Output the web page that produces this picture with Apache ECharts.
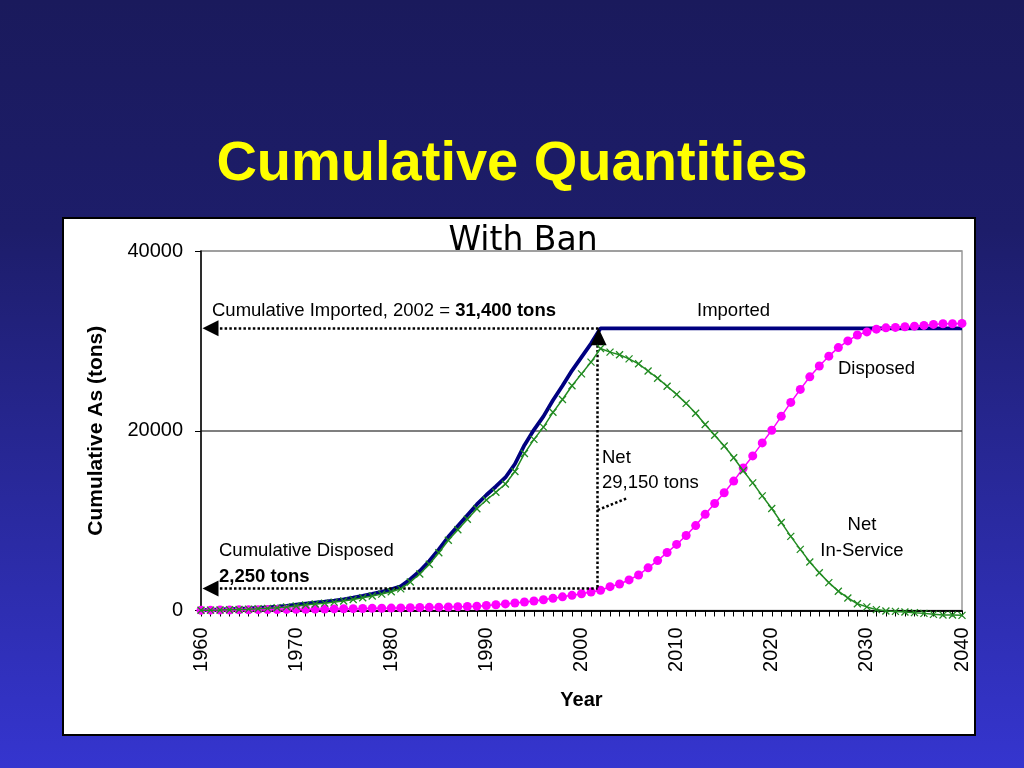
<!DOCTYPE html>
<html><head><meta charset="utf-8">
<script src="https://cdn.jsdelivr.net/npm/echarts@6/dist/echarts.min.js"></script>
<style>html,body{margin:0;padding:0;background:#1a1a5c}#main{width:1024px;height:768px}</style>
</head><body><div id="main"></div><script>
// ---- data ----
const years = [1960,1961,1962,1963,1964,1965,1966,1967,1968,1969,
  1970,1971,1972,1973,1974,1975,1976,1977,1978,1979,
  1980,1981,1982,1983,1984,1985,1986,1987,1988,1989,
  1990,1991,1992,1993,1994,1995,1996,1997,1998,1999,
  2000,2001,2002,2003,2004,2005,2006,2007,2008,2009,
  2010,2011,2012,2013,2014,2015,2016,2017,2018,2019,
  2020,2021,2022,2023,2024,2025,2026,2027,2028,2029,
  2030,2031,2032,2033,2034,2035,2036,2037,2038,2039,2040];
const imported = [50,80,110,150,190,230,280,340,420,520,
  640,760,870,980,1110,1250,1430,1630,1850,2080,
  2350,2700,3480,4400,5500,6800,8200,9400,10600,11800,
  12850,13800,14800,16300,18400,20100,21600,23400,25000,26700,
  28200,29700,31400,31400,31400,31400,31400,31400,31400,31400,
  31400,31400,31400,31400,31400,31400,31400,31400,31400,31400,
  31400,31400,31400,31400,31400,31400,31400,31400,31400,31400,
  31400,31400,31400,31400,31400,31400,31400,31400,31400,31400,31400];
const disposed = [30,40,50,60,70,80,90,100,110,120,
  130,140,150,160,175,190,205,220,240,255,
  270,290,310,330,350,370,390,415,440,480,
  560,640,730,830,940,1060,1200,1350,1520,1690,
  1870,2060,2250,2650,2950,3400,3950,4750,5550,6450,
  7350,8350,9450,10700,11900,13100,14400,15850,17200,18650,
  20050,21600,23150,24600,26000,27200,28300,29250,30000,30650,
  31000,31300,31450,31500,31570,31640,31720,31830,31900,31910,31940];
const netInService = [20,40,60,90,120,150,190,240,310,400,
  510,620,720,820,935,1060,1225,1410,1610,1825,
  2080,2410,3170,4070,5150,6430,7810,8985,10160,11320,
  12290,13160,14070,15470,17460,19040,20400,22050,23480,25010,
  26330,27640,29150,28750,28450,28000,27450,26650,25850,24950,
  24050,23050,21950,20700,19500,18300,17000,15550,14200,12750,
  11350,9800,8250,6800,5400,4200,3100,2150,1400,750,
  400,100,-50,-100,-170,-240,-320,-430,-500,-510,-540];
const yTicks = [0, 20000, 40000];
const xTicks = [1960,1970,1980,1990,2000,2010,2020,2030,2040];

const pairs = arr => years.map((y, i) => [y, arr[i]]);
const FONT = 'Liberation Sans, Arial, sans-serif';

const chart = echarts.init(document.getElementById('main'));
const dotted = { type: [2.5, 2.2], color: '#000', width: 2.5 };

const option = {
  animation: false,
  backgroundColor: {
    type: 'linear', x: 0, y: 0, x2: 0, y2: 1,
    colorStops: [{offset: 0, color: '#1a1a5c'}, {offset: 0.3, color: '#1d1d6a'}, {offset: 1, color: '#3535cf'}]
  },
  textStyle: { fontFamily: FONT },
  graphic: [
    { type: 'rect', z: -100, shape: { x: 63, y: 218, width: 912, height: 517 },
      style: { fill: '#fff', stroke: '#000', lineWidth: 2 } },
    { type: 'text', x: 512, y: 165, z: 100,
      style: { text: 'Cumulative Quantities', fill: '#ffff00', fontSize: 56, fontWeight: 'bold', fontFamily: FONT, align: 'center', verticalAlign: 'middle' } },
    { type: 'text', x: 523, y: 241, z: 100,
      style: { text: 'With Ban', fill: '#000', fontSize: 33, fontFamily: 'DejaVu Sans', align: 'center', verticalAlign: 'middle' } },
    { type: 'text', x: 212, y: 311, z: 100,
      style: { text: 'Cumulative Imported, 2002 = {b|31,400 tons}', fill: '#000', fontSize: 18.5, fontFamily: FONT, align: 'left', verticalAlign: 'middle',
        rich: { b: { fontWeight: 'bold', fontSize: 18.5, fontFamily: FONT, fill: '#000' } } } },
    { type: 'text', x: 697, y: 311, z: 100,
      style: { text: 'Imported', fill: '#000', fontSize: 18.5, fontFamily: FONT, align: 'left', verticalAlign: 'middle' } },
    { type: 'text', x: 838, y: 369, z: 100,
      style: { text: 'Disposed', fill: '#000', fontSize: 18.5, fontFamily: FONT, align: 'left', verticalAlign: 'middle' } },
    { type: 'text', x: 862, y: 538, z: 100,
      style: { text: 'Net\nIn-Service', fill: '#000', fontSize: 18.5, lineHeight: 26, fontFamily: FONT, align: 'center', verticalAlign: 'middle' } },
    { type: 'text', x: 602, y: 470, z: 100,
      style: { text: 'Net\n29,150 tons', fill: '#000', fontSize: 18.5, lineHeight: 25, fontFamily: FONT, align: 'left', verticalAlign: 'middle' } },
    { type: 'text', x: 219, y: 551, z: 100,
      style: { text: 'Cumulative Disposed', fill: '#000', fontSize: 18.5, fontFamily: FONT, align: 'left', verticalAlign: 'middle' } },
    { type: 'text', x: 219, y: 577, z: 100,
      style: { text: '2,250 tons', fill: '#000', fontSize: 18.5, fontWeight: 'bold', fontFamily: FONT, align: 'left', verticalAlign: 'middle' } }
  ],
  grid: { left: 201, right: 62, top: 251, bottom: 157.5, show: true, borderColor: '#999', borderWidth: 1.5, backgroundColor: 'transparent', outerBoundsMode: 'none' },
  xAxis: {
    type: 'value', min: 1960, max: 2040, interval: 10,
    name: 'Year', nameLocation: 'middle', nameGap: 80,
    nameTextStyle: { fontSize: 20, fontWeight: 'bold', color: '#000', fontFamily: FONT },
    axisLine: { show: true, lineStyle: { color: '#000', width: 1.5 } },
    axisTick: { show: true, length: 6, lineStyle: { color: '#000', width: 1 } },
    minorTick: { show: true, splitNumber: 10, length: 6, lineStyle: { color: '#000', width: 1 } },
    splitLine: { show: false },
    axisLabel: { rotate: 90, fontSize: 20, color: '#000', margin: 17, fontFamily: FONT,
      formatter: v => xTicks.includes(v) ? String(v) : '' }
  },
  yAxis: {
    type: 'value', min: 0, max: 40000, interval: 20000,
    name: 'Cumulative As (tons)', nameLocation: 'middle', nameGap: 94, nameRotate: 90,
    nameTextStyle: { fontSize: 21, fontWeight: 'bold', color: '#000', fontFamily: FONT },
    axisLine: { show: true, lineStyle: { color: '#000', width: 1.5 } },
    axisTick: { show: true, length: 6, lineStyle: { color: '#000', width: 1 } },
    splitLine: { show: true, lineStyle: { color: ['#000', '#555', '#999'], width: 1.5 } },
    axisLabel: { fontSize: 20, color: '#000', margin: 18, fontFamily: FONT,
      formatter: v => yTicks.includes(v) ? String(v) : '' }
  },
  series: [
    {
      name: 'Imported', type: 'line', data: pairs(imported), showSymbol: false, z: 3,
      lineStyle: { color: '#000080', width: 3.8 }, itemStyle: { color: '#000080' },
      markLine: {
        silent: true, symbol: ['none', 'none'], label: { show: false }, lineStyle: dotted,
        data: [
          [{ coord: [1961, 31400], symbol: 'triangle', symbolSize: [16, 16] }, { coord: [2002, 31400] }],
          [{ coord: [1961, 2450], symbol: 'triangle', symbolSize: [16, 16] }, { coord: [2001.7, 2450] }],
          [{ coord: [2001.7, 29500] }, { coord: [2001.7, 2450] }],
          [{ coord: [2001.7, 11180] }, { coord: [2004.8, 12500] }]
        ]
      },
      markPoint: {
        silent: true, symbol: 'triangle', symbolSize: [16, 17], symbolOffset: [0, 8.5],
        itemStyle: { color: '#000' }, label: { show: false },
        data: [{ coord: [2001.8, 31400] }]
      }
    },
    {
      name: 'Disposed', type: 'line', data: pairs(disposed), z: 4,
      symbol: 'circle', symbolSize: 9, showAllSymbol: true,
      lineStyle: { color: '#ff00ff', width: 1.5 }, itemStyle: { color: '#ff00ff', borderWidth: 0 }
    },
    {
      name: 'Net In-Service', type: 'line', data: pairs(netInService), z: 5, clip: false,
      symbol: 'path://M0,0L10,10M10,0L0,10', symbolSize: 7, showAllSymbol: true,
      lineStyle: { color: '#228b22', width: 1.5 },
      itemStyle: { color: '#228b22', borderColor: '#228b22', borderWidth: 1.3 }
    }
  ]
};
chart.setOption(option);
</script></body></html>
